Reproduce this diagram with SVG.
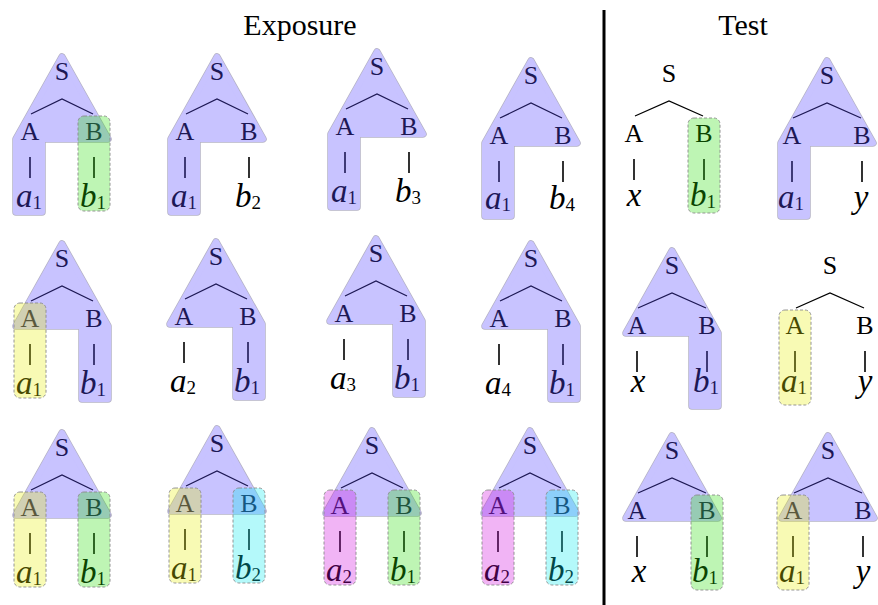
<svg xmlns="http://www.w3.org/2000/svg" xmlns:xlink="http://www.w3.org/1999/xlink" width="878" height="605" viewBox="0 0 878 605">
<style>
.hd{font-family:"Liberation Serif",serif;font-size:30px;text-anchor:middle;fill:#000}
.lab{font-family:"Liberation Serif",serif;font-size:26px;text-anchor:middle;fill:#000}
.leaf{font-family:"Liberation Serif",serif;font-style:italic;font-size:33px;text-anchor:middle;fill:#000}
.sub{font-style:normal;font-size:19px}
.br{fill:none;stroke:#000;stroke-width:1.3}
.vl{fill:none;stroke:#000;stroke-width:1.6}
.pur{fill:#5a4bff;stroke:#5a4bff;stroke-width:6;stroke-linejoin:round}
.purl{fill:none;stroke:#1e1850;stroke-width:7.5;stroke-linejoin:round}
.box{stroke:#8a8a8a;stroke-width:0.9;stroke-dasharray:3 2}
.gr{fill:rgb(40,223,7);fill-opacity:0.3}
.ye{fill:rgb(233,240,7);fill-opacity:0.3}
.cy{fill:rgb(7,235,240);fill-opacity:0.3}
.mg{fill:rgb(207,7,223);fill-opacity:0.3}
</style>
<defs>
<path id="tri" d="M0,-83 L46,-1 L-46,-1 Z"/>
<path id="triL" d="M0,-83 L46,-1 L-20,-1 L-20,72 L-46,72 L-46,-1 Z"/>
<path id="triR" d="M0,-83 L46,-1 L46,72 L20,72 L20,-1 L-46,-1 Z"/>
<g id="sk32"><path class="br" d="M-31,-26 L0,-41 L31,-26"/><path class="vl" d="M-32,17 V38 M32,17 V38"/><text class="lab" x="0" y="-60">S</text><text class="lab" x="-32" y="0">A</text><text class="lab" x="32" y="0">B</text></g>
<g id="sk35"><path class="br" d="M-34,-26 L0,-41 L34,-26"/><path class="vl" d="M-35,17 V38 M35,17 V38"/><text class="lab" x="0" y="-60">S</text><text class="lab" x="-35" y="0">A</text><text class="lab" x="35" y="0">B</text></g>
<rect id="bA" class="box" x="-48" y="-24" width="32" height="95" rx="6"/>
<rect id="bB" class="box" x="16" y="-24" width="32" height="95" rx="6"/>
<rect id="bA5" class="box" x="-51" y="-24" width="32" height="95" rx="6"/>
<rect id="bB5" class="box" x="19" y="-24" width="32" height="95" rx="6"/>
</defs>
<rect width="878" height="605" fill="#fff"/>
<text class="hd" x="300" y="35">Exposure</text>
<text class="hd" x="743" y="35">Test</text>
<g id="connectors"><path d="M604,10 V605" stroke="#000" stroke-width="3"/></g>

<g id="e11" transform="translate(62,140)"><use xlink:href="#sk32"/>
<text class="leaf" x="-33" y="67">a<tspan class="sub" dy="2">1</tspan></text><text class="leaf" x="31" y="67">b<tspan class="sub" dy="2">1</tspan></text>
<g opacity="0.33"><use xlink:href="#triL" class="purl"/><use xlink:href="#triL" class="pur"/></g>
<use xlink:href="#bB" class="gr"/></g>

<g id="e12" transform="translate(217,140)"><use xlink:href="#sk32"/>
<text class="leaf" x="-33" y="67">a<tspan class="sub" dy="2">1</tspan></text><text class="leaf" x="31" y="67">b<tspan class="sub" dy="2">2</tspan></text>
<g opacity="0.33"><use xlink:href="#triL" class="purl"/><use xlink:href="#triL" class="pur"/></g></g>

<g id="e13" transform="translate(377,135)"><use xlink:href="#sk32"/>
<text class="leaf" x="-33" y="67">a<tspan class="sub" dy="2">1</tspan></text><text class="leaf" x="31" y="67">b<tspan class="sub" dy="2">3</tspan></text>
<g opacity="0.33"><use xlink:href="#triL" class="purl"/><use xlink:href="#triL" class="pur"/></g></g>

<g id="e14" transform="translate(531,144)"><use xlink:href="#sk32"/>
<text class="leaf" x="-33" y="65">a<tspan class="sub" dy="2">1</tspan></text><text class="leaf" x="31" y="65">b<tspan class="sub" dy="2">4</tspan></text>
<g opacity="0.33"><use xlink:href="#triL" class="purl"/><use xlink:href="#triL" class="pur"/></g></g>

<g id="e21" transform="translate(62,327)"><use xlink:href="#sk32"/>
<text class="leaf" x="-33" y="67">a<tspan class="sub" dy="2">1</tspan></text><text class="leaf" x="31" y="67">b<tspan class="sub" dy="2">1</tspan></text>
<g opacity="0.33"><use xlink:href="#triR" class="purl"/><use xlink:href="#triR" class="pur"/></g>
<use xlink:href="#bA" class="ye"/></g>

<g id="e22" transform="translate(216,325)"><use xlink:href="#sk32"/>
<text class="leaf" x="-33" y="67">a<tspan class="sub" dy="2">2</tspan></text><text class="leaf" x="31" y="67">b<tspan class="sub" dy="2">1</tspan></text>
<g opacity="0.33"><use xlink:href="#triR" class="purl"/><use xlink:href="#triR" class="pur"/></g></g>

<g id="e23" transform="translate(376,322)"><use xlink:href="#sk32"/>
<text class="leaf" x="-33" y="67">a<tspan class="sub" dy="2">3</tspan></text><text class="leaf" x="31" y="67">b<tspan class="sub" dy="2">1</tspan></text>
<g opacity="0.33"><use xlink:href="#triR" class="purl"/><use xlink:href="#triR" class="pur"/></g></g>

<g id="e24" transform="translate(531,327)"><use xlink:href="#sk32"/>
<text class="leaf" x="-33" y="67">a<tspan class="sub" dy="2">4</tspan></text><text class="leaf" x="31" y="67">b<tspan class="sub" dy="2">1</tspan></text>
<g opacity="0.33"><use xlink:href="#triR" class="purl"/><use xlink:href="#triR" class="pur"/></g></g>

<g id="e31" transform="translate(62,516)"><use xlink:href="#sk32"/>
<text class="leaf" x="-33" y="67">a<tspan class="sub" dy="2">1</tspan></text><text class="leaf" x="31" y="67">b<tspan class="sub" dy="2">1</tspan></text>
<g opacity="0.33"><use xlink:href="#tri" class="purl"/><use xlink:href="#tri" class="pur"/></g>
<use xlink:href="#bA" class="ye"/><use xlink:href="#bB" class="gr"/></g>

<g id="e32" transform="translate(217,512)"><use xlink:href="#sk32"/>
<text class="leaf" x="-33" y="67">a<tspan class="sub" dy="2">1</tspan></text><text class="leaf" x="31" y="67">b<tspan class="sub" dy="2">2</tspan></text>
<g opacity="0.33"><use xlink:href="#tri" class="purl"/><use xlink:href="#tri" class="pur"/></g>
<use xlink:href="#bA" class="ye"/><use xlink:href="#bB" class="cy"/></g>

<g id="e33" transform="translate(372,514)"><use xlink:href="#sk32"/>
<text class="leaf" x="-33" y="67">a<tspan class="sub" dy="2">2</tspan></text><text class="leaf" x="31" y="67">b<tspan class="sub" dy="2">1</tspan></text>
<g opacity="0.33"><use xlink:href="#tri" class="purl"/><use xlink:href="#tri" class="pur"/></g>
<use xlink:href="#bA" class="mg"/><use xlink:href="#bB" class="gr"/></g>

<g id="e34" transform="translate(530,514)"><use xlink:href="#sk32"/>
<text class="leaf" x="-33" y="67">a<tspan class="sub" dy="2">2</tspan></text><text class="leaf" x="31" y="67">b<tspan class="sub" dy="2">2</tspan></text>
<g opacity="0.33"><use xlink:href="#tri" class="purl"/><use xlink:href="#tri" class="pur"/></g>
<use xlink:href="#bA" class="mg"/><use xlink:href="#bB" class="cy"/></g>

<g id="t11" transform="translate(669,142)"><use xlink:href="#sk35"/>
<text class="leaf" x="-35" y="64">x</text><text class="leaf" x="34" y="64">b<tspan class="sub" dy="2">1</tspan></text>
<use xlink:href="#bB5" class="gr"/></g>

<g id="t12" transform="translate(827,144)"><use xlink:href="#sk35"/>
<text class="leaf" x="-36" y="64">a<tspan class="sub" dy="2">1</tspan></text><text class="leaf" x="34" y="64">y</text>
<g opacity="0.33"><use xlink:href="#triL" class="purl"/><use xlink:href="#triL" class="pur"/></g></g>

<g id="t21" transform="translate(672,334)"><use xlink:href="#sk35"/>
<text class="leaf" x="-34" y="58">x</text><text class="leaf" x="34" y="58">b<tspan class="sub" dy="2">1</tspan></text>
<g opacity="0.33"><use xlink:href="#triR" class="purl"/><use xlink:href="#triR" class="pur"/></g></g>

<g id="t22" transform="translate(830,334)"><use xlink:href="#sk35"/>
<text class="leaf" x="-36" y="58">a<tspan class="sub" dy="2">1</tspan></text><text class="leaf" x="35" y="58">y</text>
<use xlink:href="#bA5" class="ye"/></g>

<g id="t31" transform="translate(672,519)"><use xlink:href="#sk35"/>
<text class="leaf" x="-33" y="63">x</text><text class="leaf" x="33" y="63">b<tspan class="sub" dy="2">1</tspan></text>
<g opacity="0.33"><use xlink:href="#tri" class="purl"/><use xlink:href="#tri" class="pur"/></g>
<use xlink:href="#bB5" class="gr"/></g>

<g id="t32" transform="translate(828,519)"><use xlink:href="#sk35"/>
<text class="leaf" x="-36" y="63">a<tspan class="sub" dy="2">1</tspan></text><text class="leaf" x="35" y="63">y</text>
<g opacity="0.33"><use xlink:href="#tri" class="purl"/><use xlink:href="#tri" class="pur"/></g>
<use xlink:href="#bA5" class="ye"/></g>
</svg>
